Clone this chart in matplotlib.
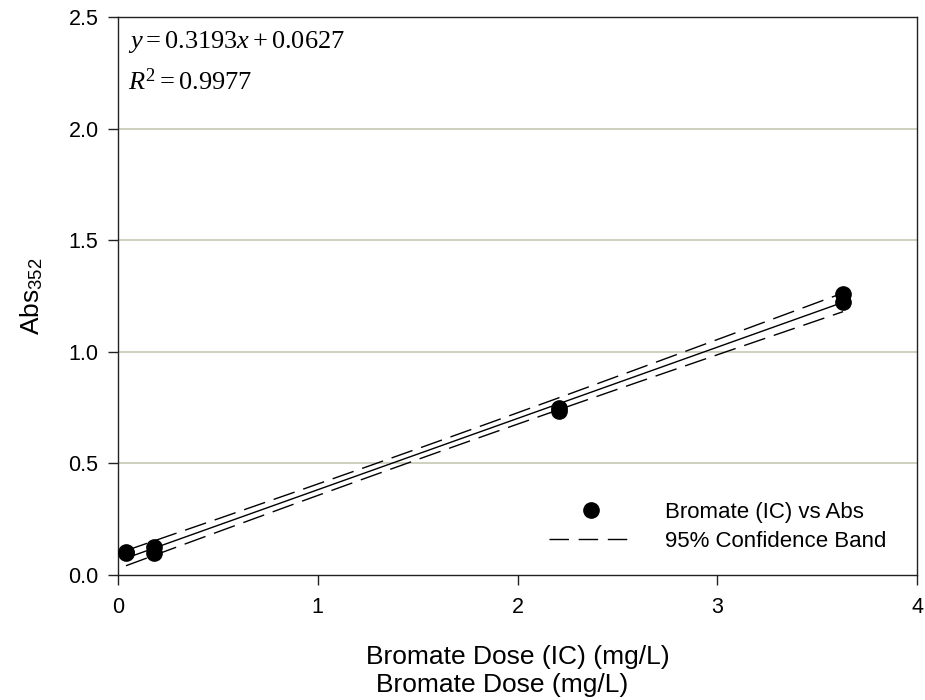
import numpy as np
import matplotlib
matplotlib.use("Agg")
import matplotlib.pyplot as plt
from matplotlib.lines import Line2D

plt.rcParams['font.family'] = ['Liberation Sans', 'DejaVu Sans']
plt.rcParams['mathtext.fontset'] = 'custom'
plt.rcParams['mathtext.rm'] = 'Liberation Serif'
plt.rcParams['mathtext.it'] = 'Liberation Serif:italic'
plt.rcParams['mathtext.sf'] = 'Liberation Sans'

# Data
dose = [0.04, 0.04, 0.18, 0.18, 2.21, 2.21, 3.63, 3.63]
absorb = [0.105, 0.100, 0.125, 0.100, 0.750, 0.735, 1.258, 1.224]
slope = 0.3193
intercept = 0.0627
r2_text = "0.9977"
x_ticks = [0, 1, 2, 3, 4]
y_ticks = [0.0, 0.5, 1.0, 1.5, 2.0, 2.5]

x = np.array(dose)
y = np.array(absorb)
n = len(x)
xs = np.linspace(x.min(), x.max(), 200)
yfit = slope * xs + intercept
resid = y - (slope * x + intercept)
s = np.sqrt(np.sum(resid ** 2) / (n - 2))
tval = 2.447  # t(0.975, df=6)
se = s * np.sqrt(1.0 / n + (xs - x.mean()) ** 2 / np.sum((x - x.mean()) ** 2))
upper = yfit + tval * se
lower = yfit - tval * se

fig = plt.figure(figsize=(9.25, 7), dpi=100)
ax = fig.add_axes([118 / 925, 1 - 575 / 700, (917 - 118) / 925, (575 - 17) / 700])

ax.plot(xs, yfit, color='black', lw=1.0, zorder=3)
dash = (0, (16, 6.5))
ax.plot(xs, upper, color='black', lw=1.0, linestyle=dash, zorder=3)
ax.plot(xs, lower, color='black', lw=1.0, linestyle=dash, zorder=3)
ax.plot(x, y, 'o', color='black', markersize=11, zorder=4)

ax.set_xlim(0, 4)
ax.set_ylim(0, 2.5)
ax.set_xticks(x_ticks)
ax.set_yticks(y_ticks)
ax.set_xticklabels([str(v) for v in x_ticks])
ax.set_yticklabels([f"{v:.1f}" for v in y_ticks])
ax.tick_params(direction='out', length=7, width=1, labelsize=15.5, pad=7, color='#222222')
ax.tick_params(axis='x', pad=9)
for sp in ax.spines.values():
    sp.set_linewidth(1.0)
    sp.set_color('#222222')

for gy in y_ticks[1:-1]:
    ax.axhline(gy, color='#c8c8b6', lw=1.2, zorder=1)

ax.set_xlabel('Bromate Dose (IC) (mg/L)', fontsize=19, labelpad=19)
ax.set_ylabel(r'Abs$_{\mathsf{352}}$', fontsize=19, labelpad=17)

fig.text(502 / 925, 1 - 692 / 700, 'Bromate Dose (mg/L)', fontsize=19,
         ha='center', va='baseline')

ax.text(0.012, 0.955, r'$y = 0.3193x + 0.0627$', transform=ax.transAxes,
        fontsize=19, va='center', ha='left')
ax.text(0.012, 0.884, r'$R^2 = ' + r2_text + '$', transform=ax.transAxes,
        fontsize=19, va='center', ha='left')

handles = [Line2D([], [], marker='o', color='black', linestyle='none', markersize=11),
           Line2D([], [], color='black', lw=1.0, linestyle=(0, (14, 7)))]
ax.legend(handles, ['Bromate (IC) vs Abs', '95% Confidence Band'],
          loc='upper left', bbox_to_anchor=(549 / 925, 1 - 502 / 700),
          bbox_transform=fig.transFigure, frameon=False, fontsize=16,
          borderpad=0, borderaxespad=0, handlelength=3.8, handletextpad=1.4,
          labelspacing=0.35)

fig.savefig('out.png', dpi=100)
